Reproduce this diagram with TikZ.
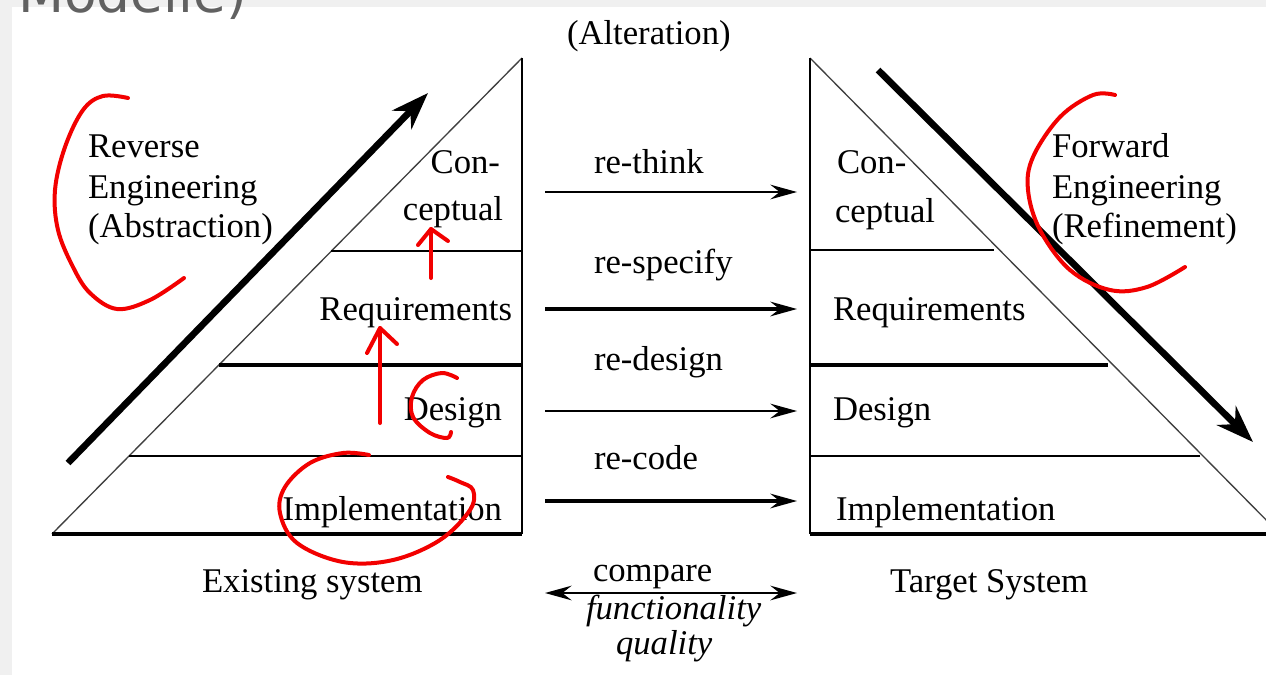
\documentclass[tikz,border=0pt]{standalone}
\usepackage{fontspec}
\setmainfont{Liberation Serif}
\newfontfamily\titlefont{DejaVu Sans}
\usetikzlibrary{arrows.meta}
\begin{document}
\begin{tikzpicture}[x=0.75pt,y=-0.75pt,
  txt/.style={font=\fontsize{26}{30}\selectfont, inner sep=0pt, outer sep=0pt},
  itx/.style={font=\fontsize{26}{30}\selectfont\itshape, inner sep=0pt, outer sep=0pt},
  thinln/.style={line width=1.3pt},
  thickln/.style={line width=2.6pt},
  hyp/.style={line width=1pt, black!75},
  midhead/.tip={Stealth[length=20pt,width=11pt,inset=7pt]},
  midarrow/.style={-midhead},
  bigarrow/.style={line width=5pt, -{Stealth[length=28pt,width=20pt,inset=9pt]}},
  redpen/.style={draw=red!95!black, line width=3pt, line cap=round, line join=round}
]
\useasboundingbox (0,0) rectangle (1266,675);
\fill[black!6] (0,0) rectangle (1266,675);
\fill[white] (12,7) rectangle (1266,675);
\node[anchor=base west, inner sep=0pt, text=black!62, font=\titlefont\fontsize{40}{40}\selectfont] (title) at (18,12) {Modelle)};

% left triangle
\coordinate (LA) at (522,58);
\coordinate (LB) at (52,534);
\coordinate (LC) at (522,534);
\draw[hyp] (LB) -- (LA);
\draw[thinln] (LA) -- (LC);
\draw[thickln] (LB) -- (LC);
\draw[thinln] (331,251) -- (522,251);
\draw[thickln] (219,365) -- (522,365);
\draw[thinln] (129,456) -- (522,456);

% right triangle
\coordinate (RA) at (810,58);
\coordinate (RB) at (810,534);
\coordinate (RC) at (1280,534);
\draw[hyp] (RA) -- (RC);
\draw[thinln] (RA) -- (RB);
\draw[thickln] (RB) -- (RC);
\draw[thinln] (810,250) -- (994,250);
\draw[thickln] (810,365) -- (1108,365);
\draw[thinln] (810,456) -- (1200,456);

% middle arrows
\coordinate (a1s) at (545,192); \coordinate (a1e) at (797,192);
\coordinate (a2s) at (545,309); \coordinate (a2e) at (797,309);
\coordinate (a3s) at (545,411); \coordinate (a3e) at (797,411);
\coordinate (a4s) at (545,501); \coordinate (a4e) at (797,501);
\coordinate (a5s) at (545,593); \coordinate (a5e) at (797,593);
\draw[thinln, midarrow] (a1s) -- (a1e);
\draw[thickln, midarrow] (a2s) -- (a2e);
\draw[thinln, midarrow] (a3s) -- (a3e);
\draw[thickln, midarrow] (a4s) -- (a4e);
\draw[thinln, midhead-midhead] (a5s) -- (a5e);

% big arrows
\coordinate (rvs) at (68,463); \coordinate (rve) at (428,93);
\coordinate (fws) at (878,70); \coordinate (fwe) at (1253,442);
\draw[bigarrow] (rvs) -- (rve);
\draw[bigarrow] (fws) -- (fwe);

% middle labels
\node[txt, anchor=base west] (alt) at (567,44) {(Alteration)};
\node[txt, anchor=base west] (l1) at (594,173) {re-think};
\node[txt, anchor=base west] (l2) at (594,273) {re-specify};
\node[txt, anchor=base west] (l3) at (594,370) {re-design};
\node[txt, anchor=base west] (l4) at (594,469) {re-code};
\node[txt, anchor=base west] (cmp) at (593,581) {compare};
\node[itx, anchor=base west] (fun) at (586,619) {functionality};
\node[itx, anchor=base west] (qua) at (616,654) {quality};

% left labels
\node[txt, anchor=base east] (lc1) at (500,173) {Con-};
\node[txt, anchor=base east] (lc2) at (503,220) {ceptual};
\node[txt, anchor=base east] (lreq) at (512,320) {Requirements};
\node[txt, anchor=base east] (ldes) at (502,420) {Design};
\node[txt, anchor=base east] (limp) at (502,520) {Implementation};
\node[txt, anchor=base west] (exs) at (202,592) {Existing system};

% right labels
\node[txt, anchor=base west] (rc1) at (837,173) {Con-};
\node[txt, anchor=base west] (rc2) at (835,222) {ceptual};
\node[txt, anchor=base west] (rreq) at (833,320) {Requirements};
\node[txt, anchor=base west] (rdes) at (833,420) {Design};
\node[txt, anchor=base west] (rimp) at (836,520) {Implementation};
\node[txt, anchor=base west] (tgt) at (890,592) {Target System};

% reverse / forward labels
\node[txt, anchor=base west] (rv1) at (88,157) {Reverse};
\node[txt, anchor=base west] (rv2) at (88,198) {Engineering};
\node[txt, anchor=base west] (rv3) at (88,237) {(Abstraction)};
\node[txt, anchor=base west] (fw1) at (1052,157) {Forward};
\node[txt, anchor=base west] (fw2) at (1052,198) {Engineering};
\node[txt, anchor=base west] (fw3) at (1052,237) {(Refinement)};

% red annotations
\draw[redpen] plot[smooth, tension=0.6] coordinates {(128,98) (103,96) (83,110) (65,147) (55,190) (58,230) (73,267) (90,293) (117,309) (150,300) (184,278)};
\draw[redpen] plot[smooth, tension=0.6] coordinates {(1115,95) (1093,95) (1060,117) (1033,157) (1028,190) (1040,230) (1070,270) (1110,290) (1147,287) (1185,267)};
\draw[redpen] plot[smooth, tension=0.6] coordinates {(457,378) (442,373) (423,380) (412,397) (413,417) (430,433) (447,438) (451,432)};
\draw[redpen] plot[smooth, tension=0.6] coordinates {(369,455) (343,453) (310,463) (285,487) (280,513) (297,543) (343,562) (393,560) (440,540) (470,510) (473,490) (460,482) (448,477)};
\coordinate (ua1) at (431,278); \coordinate (ua2) at (431,229);
\draw[redpen] (ua1) -- (ua2);
\draw[redpen] (418,245) -- (ua2) -- (448,241);
\coordinate (ub1) at (380,423); \coordinate (ub2) at (380,328);
\draw[redpen] (ub1) -- (ub2);
\draw[redpen] (367,353) -- (ub2) .. controls (388,336) .. (397,344);
\end{tikzpicture}
\end{document}
